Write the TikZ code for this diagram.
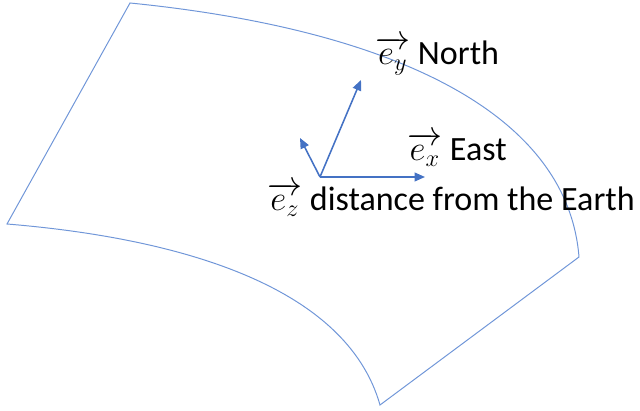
\documentclass[tikz,border=0pt]{standalone}
\usepackage{fontspec}
\setmainfont{Carlito}
\usepackage{amsmath}
\usepackage{tikz}
\usetikzlibrary{arrows.meta}
\definecolor{rim}{HTML}{7096D8}
\definecolor{axis}{HTML}{4472C4}
\definecolor{ink}{HTML}{000000}
\tikzset{
  sheet/.style = {draw=rim, line width=0.7pt, line join=miter},
  vec/.style   = {-{Triangle[length=2.6mm, width=2.2mm]}, draw=axis, line width=1.1pt},
  lbl/.style   = {font=\fontsize{24.2}{28}\selectfont, text=ink, inner sep=0pt, anchor=base west},
}

\begin{document}
\begin{tikzpicture}[x=0.025cm,y=-0.025cm]
\useasboundingbox (0,0) rectangle (640,411);

% ------------------------------------------------------------------ the sheet
\draw[sheet] (130,3) .. controls (380,28) and (567,107) .. (579,257)
  -- (380,405) .. controls (346,285) and (177,238) .. (7,224) -- cycle;

% ------------------------------------------------------------------ the frame
\coordinate (o)  at (320,177);
\coordinate (ex) at (425,177);
\coordinate (ey) at (361,80);
\coordinate (ez) at (300,138);

\draw[vec] (o) -- (ex);
\draw[vec] (o) -- (ey);
\draw[vec] (o) -- (ez);

% ------------------------------------------------------------------ labels
\node[lbl] (ly) at (375,65)  {$\overrightarrow{e_y}$ North};
\node[lbl] (lx) at (407,161) {$\overrightarrow{e_x}$ East};
\node[lbl] (lz) at (267,211) {$\overrightarrow{e_z}$ distance from the Earth};

\end{tikzpicture}
\end{document}
